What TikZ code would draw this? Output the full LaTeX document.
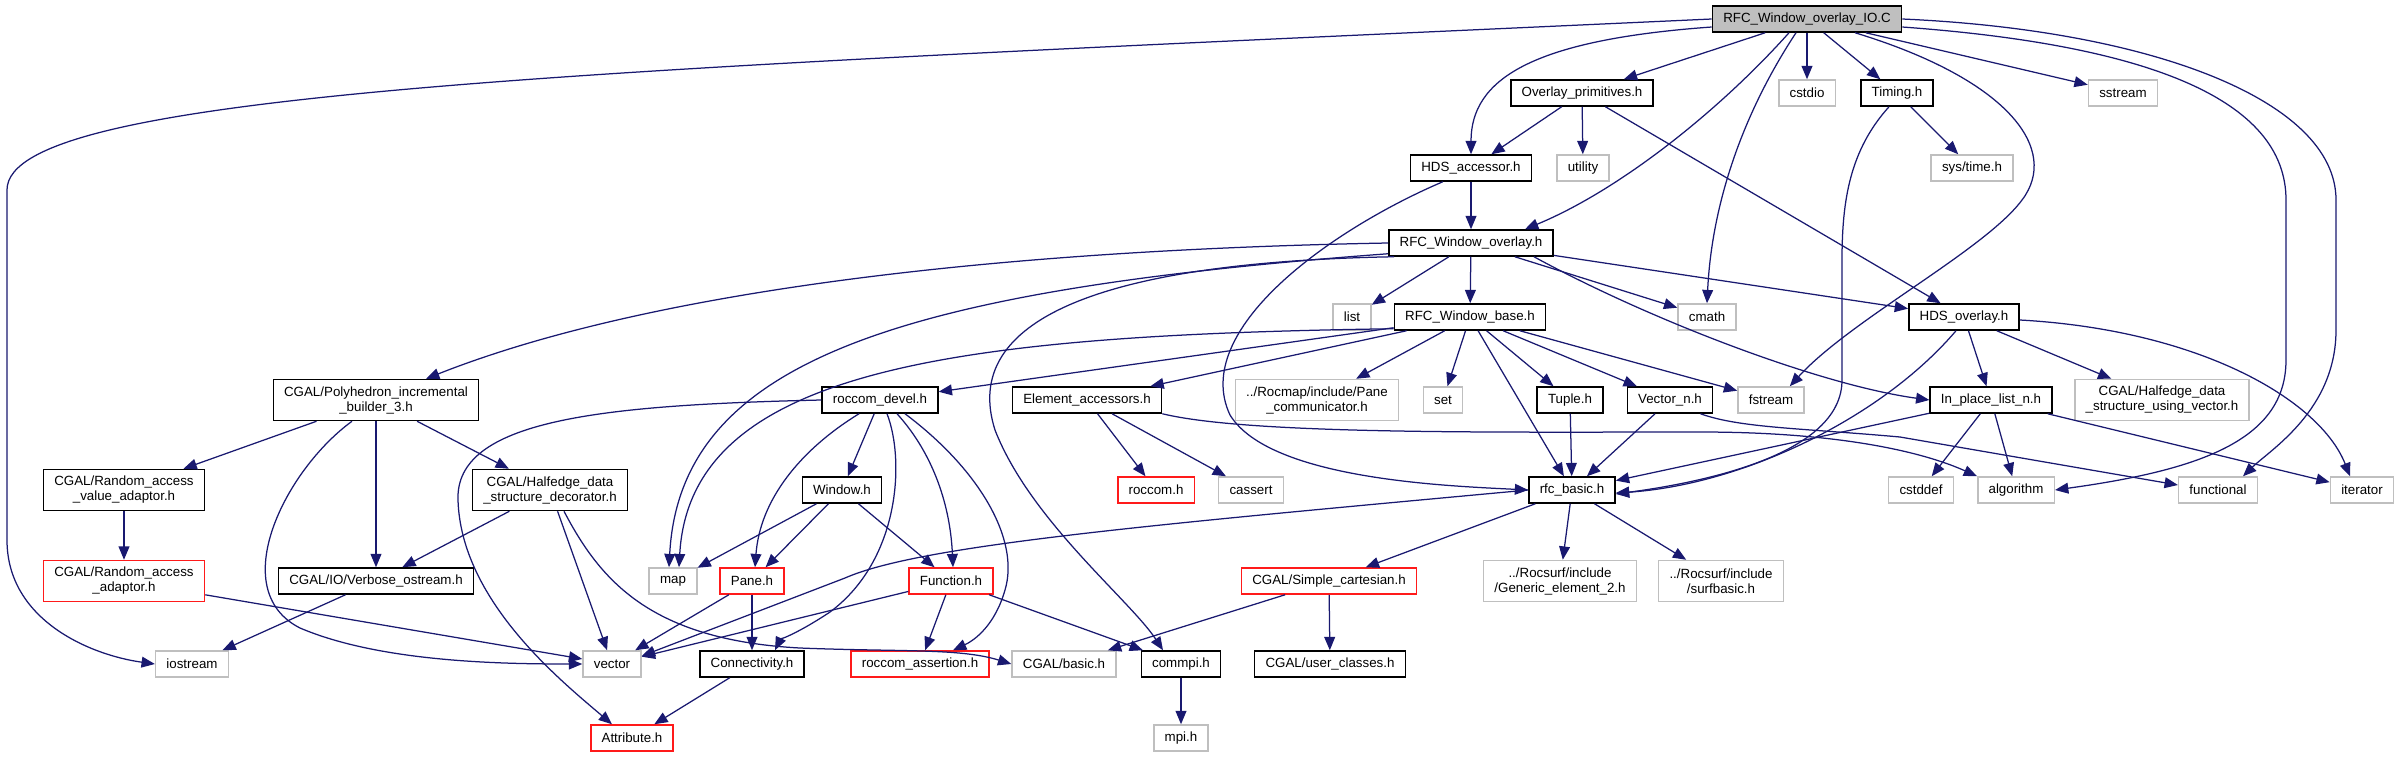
\documentclass[tikz,border=0pt]{standalone}
\usepackage{fontspec}
\setmainfont{Liberation Sans}
\usepackage{tikz}
\usetikzlibrary{arrows.meta,calc}
\definecolor{edgeblue}{HTML}{191970}
\definecolor{extgrey}{HTML}{BFBFBF}
\definecolor{rootgrey}{HTML}{BFBFBF}
\definecolor{missred}{HTML}{FF1A1A}

\begin{document}
\begin{tikzpicture}[
  x=0.6pt, y=-0.6pt,
  hdr/.style={draw=black, line width=0.9pt, font=\fontsize{8}{9}\selectfont, align=center,
    inner xsep=6.5pt, inner ysep=1pt, minimum height=15.6pt},
  dbl/.style={minimum height=24.6pt},
  ext/.style={hdr, draw=extgrey},
  miss/.style={hdr, draw=missred},
  mainfile/.style={hdr, fill=rootgrey},
  dep/.style={draw=edgeblue, line width=0.75pt, -{Triangle[length=8pt,width=6.5pt]}},
]
\useasboundingbox (0,0) rectangle (2398,757);

% Row 0 and 1: the file itself and its direct headers
\node[mainfile] (root) at (1807,19) {RFC\_Window\_overlay\_IO.C};
\node[hdr] (ovp) at (1582,93) {Overlay\_primitives.h};
\node[ext] (cstdio) at (1807,93) {cstdio};
\node[hdr] (timing) at (1897,93) {Timing.h};
\node[ext] (sstream) at (2123,93) {sstream};

% Row 2
\node[hdr] (hdsacc) at (1471,168) {HDS\_accessor.h};
\node[ext] (utility) at (1583,168) {utility};
\node[ext] (systime) at (1972,168) {sys/time.h};

% Row 3
\node[hdr] (rfcov) at (1471,243) {RFC\_Window\_overlay.h};

% Row 4
\node[ext] (list) at (1352,317) {list};
\node[hdr] (rfcbase) at (1470,317) {RFC\_Window\_base.h};
\node[ext] (cmath) at (1707,317) {cmath};
\node[hdr] (hdsov) at (1964,317) {HDS\_overlay.h};

% Row 5
\node[hdr, dbl] (poly) at (376,400) {CGAL/Polyhedron\_incremental\\\_builder\_3.h};
\node[hdr] (rdevel) at (880,400) {roccom\_devel.h};
\node[hdr] (elacc) at (1087,400) {Element\_accessors.h};
\node[ext, dbl] (panecomm) at (1317,400) {../Rocmap/include/Pane\\\_communicator.h};
\node[ext] (set) at (1443,400) {set};
\node[hdr] (tuple) at (1570,400) {Tuple.h};
\node[hdr] (vecn) at (1670,400) {Vector\_n.h};
\node[ext] (fstream) at (1771,400) {fstream};
\node[hdr] (inplace) at (1991,400) {In\_place\_list\_n.h};
\node[ext, dbl] (hdsvec) at (2162,400) {CGAL/Halfedge\_data\\\_structure\_using\_vector.h};

% Row 6
\node[hdr, dbl] (ravadapt) at (124,490) {CGAL/Random\_access\\\_value\_adaptor.h};
\node[hdr, dbl] (hdsdec) at (550,490) {CGAL/Halfedge\_data\\\_structure\_decorator.h};
\node[hdr] (window) at (842,490) {Window.h};
\node[miss] (roccom) at (1156,490) {roccom.h};
\node[ext] (cassert) at (1251,490) {cassert};
\node[hdr] (rfcbasic) at (1572,490) {rfc\_basic.h};
\node[ext] (cstddef) at (1921,490) {cstddef};
\node[ext] (algorithm) at (2016,490) {algorithm};
\node[ext] (functional) at (2218,490) {functional};
\node[ext] (iterator) at (2362,490) {iterator};

% Row 7
\node[miss, dbl] (raadapt) at (124,581) {CGAL/Random\_access\\\_adaptor.h};
\node[hdr] (verbose) at (376,581) {CGAL/IO/Verbose\_ostream.h};
\node[ext] (map) at (673,581) {map};
\node[miss] (pane) at (752,581) {Pane.h};
\node[miss] (function) at (951,581) {Function.h};
\node[miss] (simplecart) at (1329,581) {CGAL/Simple\_cartesian.h};
\node[ext, dbl] (generic) at (1560,581) {../Rocsurf/include\\/Generic\_element\_2.h};
\node[ext, dbl] (surfbasic) at (1721,581) {../Rocsurf/include\\/surfbasic.h};

% Row 8
\node[ext] (iostream) at (192,664) {iostream};
\node[ext] (vector) at (612,664) {vector};
\node[hdr] (connect) at (752,664) {Connectivity.h};
\node[miss] (rassert) at (920,664) {roccom\_assertion.h};
\node[ext] (cgalbasic) at (1064,664) {CGAL/basic.h};
\node[hdr] (commpi) at (1181,664) {commpi.h};
\node[hdr] (userclasses) at (1330,664) {CGAL/user\_classes.h};

% Row 9
\node[miss] (attribute) at (632,738) {Attribute.h};
\node[ext] (mpi) at (1181,738) {mpi.h};

% includes of the main file
\draw[dep] (root.west) .. controls (600,70) and (7,90) .. (7,190) -- (7,540) .. controls (7,620) and (90,655) .. (iostream.west);
\draw[dep] ($(root.west)+(0,8)$) .. controls (1530,40) and (1471,80) .. (hdsacc.north);
\draw[dep] (root) -- (ovp);
\draw[dep] ($(root.south)+(-18,0)$) .. controls (1720,110) and (1620,190) .. ($(rfcov.north east)+(-29,0)$);
\draw[dep] ($(root.south)+(-11,0)$) .. controls (1745,110) and (1712,200) .. (cmath.north);
\draw[dep] (root) -- (cstdio);
\draw[dep] (root) -- (timing);
\draw[dep] ($(root.south)+(48,0)$) .. controls (2010,80) and (2060,150) .. (2022,200) .. controls (1985,250) and (1850,320) .. ($(fstream.north east)+(-15,0)$);
\draw[dep] (root) -- (sstream);
\draw[dep] ($(root.east)+(0,8)$) .. controls (2150,45) and (2286,100) .. (2286,200) -- (2286,360) .. controls (2286,440) and (2200,470) .. (algorithm.east);
\draw[dep] (root.east) .. controls (2150,30) and (2336,100) .. (2336,200) -- (2336,330) .. controls (2336,410) and (2270,450) .. ($(functional.north)+(25,0)$);

% second level
\draw[dep] (ovp) -- (hdsacc);
\draw[dep] (ovp) -- (utility);
\draw[dep] (ovp) -- (hdsov);
\draw[dep] (timing) -- (systime);
\draw[dep] ($(timing.south)+(-8,0)$) .. controls (1850,150) and (1842,200) .. (1842,260) -- (1842,380) .. controls (1842,450) and (1720,480) .. ($(rfcbasic.east)+(0,4)$);
\draw[dep] (hdsacc) -- (rfcov);
\draw[dep] ($(hdsacc.south west)+(33,0)$) .. controls (1330,230) and (1190,330) .. (1230,415) .. controls (1270,480) and (1450,486) .. (rfcbasic.west);

% RFC_Window_overlay.h
\draw[dep] (rfcov.west) .. controls (1000,250) and (650,290) .. ($(poly.north)+(50,0)$);
\draw[dep] ($(rfcov.south west)+(0,-3)$) .. controls (900,290) and (680,360) .. ($(map.north)+(-4,0)$);
\draw[dep] (rfcov) -- (list);
\draw[dep] (rfcov) -- (rfcbase);
\draw[dep] (rfcov) -- (cmath);
\draw[dep] (rfcov) -- (hdsov);
\draw[dep] ($(rfcov.south east)+(-20,0)$) .. controls (1650,320) and (1820,385) .. (inplace.west);
\draw[dep] ($(rfcov.south west)+(6,0)$) .. controls (1100,262) and (960,320) .. (995,430) .. controls (1030,520) and (1130,600) .. ($(commpi.north)+(-18,0)$);

% RFC_Window_base.h
\draw[dep] ($(rfcbase.south west)+(0,-2)$) .. controls (950,335) and (690,370) .. ($(map.north)+(6,0)$);
\draw[dep] (rfcbase) -- (rdevel);
\draw[dep] (rfcbase) -- (elacc);
\draw[dep] (rfcbase) -- (panecomm);
\draw[dep] (rfcbase) -- (set);
\draw[dep] (rfcbase) -- (rfcbasic);
\draw[dep] (rfcbase) -- (tuple);
\draw[dep] (rfcbase) -- (vecn);
\draw[dep] (rfcbase) -- (fstream);

% CGAL side
\draw[dep] (poly) -- (ravadapt);
\draw[dep] (poly) -- (hdsdec);
\draw[dep] (poly) -- (verbose);
\draw[dep] ($(poly.south)+(-24,0)$) .. controls (285,470) and (225,590) .. (300,628) .. controls (380,662) and (500,664) .. (vector.west);
\draw[dep] (ravadapt) -- (raadapt);
\draw[dep] (raadapt) -- (vector);
\draw[dep] (hdsdec) -- (verbose);
\draw[dep] (hdsdec) -- (vector);
\draw[dep] ($(hdsdec.south)+(14,0)$) .. controls (600,580) and (650,640) .. (800,648) .. controls (900,652) and (960,648) .. (cgalbasic.west);
\draw[dep] (verbose) -- (iostream);

% roccom_devel.h
\draw[dep] (rdevel.west) .. controls (600,405) and (455,420) .. (458,500) .. controls (461,600) and (560,680) .. ($(attribute.north)+(-20,0)$);
\draw[dep] (rdevel) -- (window);
\draw[dep] ($(rdevel.south)+(-21,0)$) .. controls (800,450) and (760,500) .. ($(pane.north)+(3,0)$);
\draw[dep] ($(rdevel.south)+(7,0)$) .. controls (905,460) and (900,560) .. (830,612) .. controls (800,632) and (780,640) .. ($(connect.north)+(23,0)$);
\draw[dep] ($(rdevel.south)+(17,0)$) .. controls (930,450) and (950,500) .. ($(function.north)+(2,0)$);
\draw[dep] ($(rdevel.south)+(25,0)$) .. controls (980,470) and (1020,540) .. (1005,590) .. controls (995,625) and (975,640) .. ($(rassert.north)+(33,0)$);
\draw[dep] (window) -- (map);
\draw[dep] (window) -- (pane);
\draw[dep] (window) -- (function);

% accessors, vectors, lists
\draw[dep] (elacc) -- (roccom);
\draw[dep] (elacc) -- (cassert);
\draw[dep] (elacc.south east) .. controls (1250,435) and (1500,432) .. (1700,432) .. controls (1850,432) and (1930,455) .. (algorithm.north west);
\draw[dep] (vecn) -- (rfcbasic);
\draw[dep] ($(vecn.south east)+(-13,0)$) .. controls (1740,428) and (1800,428) .. (1900,437) -- ($(functional.west)+(0,-5)$);
\draw[dep] (tuple) -- (rfcbasic);
\draw[dep] ($(hdsov.south)+(-8,0)$) .. controls (1880,420) and (1740,485) .. ($(rfcbasic.east)+(0,3)$);
\draw[dep] (hdsov) -- (inplace);
\draw[dep] (hdsov) -- (hdsvec);
\draw[dep] ($(hdsov.east)+(0,3)$) .. controls (2200,330) and (2320,400) .. ($(iterator.north)+(-12,0)$);
\draw[dep] (inplace) -- (rfcbasic);
\draw[dep] (inplace) -- (cstddef);
\draw[dep] (inplace) -- (algorithm);
\draw[dep] (inplace) -- (iterator);

% rfc_basic.h
\draw[dep] (rfcbasic.west) .. controls (1150,525) and (920,545) .. (845,578) -- ($(vector.east)+(0,-8)$);
\draw[dep] (rfcbasic) -- (simplecart);
\draw[dep] (rfcbasic) -- (generic);
\draw[dep] (rfcbasic) -- (surfbasic);
\draw[dep] (simplecart) -- (cgalbasic);
\draw[dep] (simplecart) -- (userclasses);

% bottom rows
\draw[dep] (function) -- (vector);
\draw[dep] (function) -- (rassert);
\draw[dep] (function) -- (commpi);
\draw[dep] (pane) -- (vector);
\draw[dep] (pane) -- (connect);
\draw[dep] (connect) -- (attribute);
\draw[dep] (commpi) -- (mpi);
\end{tikzpicture}
\end{document}
